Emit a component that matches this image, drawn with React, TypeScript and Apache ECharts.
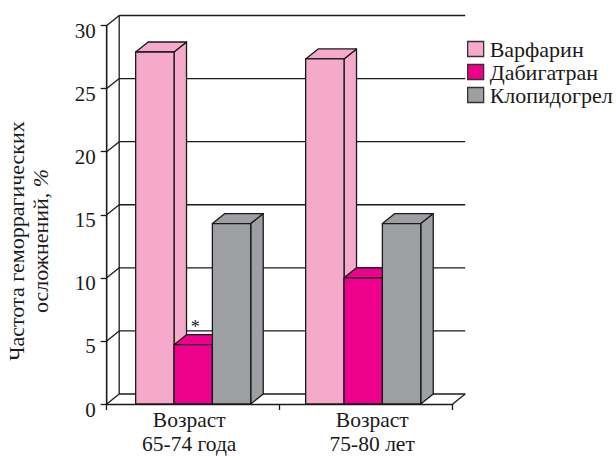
import React, { useEffect, useRef } from "react";
import * as echarts from "echarts";

const categories = ["Возраст\n65-74 года", "Возраст\n75-80 лет"];
const warfarin = [27.9, 27.35];
const dabigatran = [4.7, 10.0];
const clopidogrel = [14.3, 14.3];
const dabigatranMarks = ["*", ""];
const yTicks = [0, 5, 10, 15, 20, 25, 30];
const seriesNames = ["Варфарин", "Дабигатран", "Клопидогрел"];
const seriesColors = ["#F5A9CB", "#EC008C", "#9D9FA2"];
const yTitle = "Частота геморрагических";
const yTitle2 = "осложнений, ";

const FONT = "Liberation Serif";
const INK = "#1a1a1a";
const DX = 12.5;
const DY = -10;
const BAR_FRACTION = 0.2217;
const LINE = 1.3;
const GROUP_SHIFT = -3;

function wallItem(params: any, api: any) {
  const v = api.value(1);
  const cs = params.coordSys;
  const y = api.coord([0, v])[1];
  const left = cs.x;
  const right = cs.x + cs.width;
  const style = { stroke: INK, lineWidth: LINE, fill: "none" };
  const line = (x1: number, y1: number, x2: number, y2: number) => ({
    type: "line",
    shape: { x1, y1, x2, y2 },
    style,
  });
  const children: any[] = [
    line(left, y, left + DX, y + DY),
    line(left + DX, y + DY, right + DX, y + DY),
  ];
  if (v === 0) {
    children.push(line(right, y, right + DX, y + DY));
    children.push(line(left + DX, y + DY, left + DX, cs.y + DY));
    children.push(line(left, y, left, cs.y));
  }
  return { type: "group", children };
}

function barItem(seriesIndex: number, marks?: string[]) {
  return (params: any, api: any) => {
    const cat = api.value(0);
    const val = api.value(1);
    const band = api.size([1, 0])[0];
    const w = band * BAR_FRACTION;
    const [cx, top] = api.coord([cat, val]);
    const [, base] = api.coord([cat, 0]);
    const x = cx - 1.5 * w + seriesIndex * w + cat * GROUP_SHIFT;
    const color = seriesColors[seriesIndex];
    const style = { fill: color, stroke: INK, lineWidth: LINE, lineJoin: "round" };
    const children: any[] = [
      {
        type: "polygon",
        shape: {
          points: [
            [x + w, base],
            [x + w + DX, base + DY],
            [x + w + DX, top + DY],
            [x + w, top],
          ],
        },
        style,
      },
      {
        type: "polygon",
        shape: {
          points: [
            [x, top],
            [x + DX, top + DY],
            [x + w + DX, top + DY],
            [x + w, top],
          ],
        },
        style,
      },
      { type: "rect", shape: { x, y: top, width: w, height: base - top }, style },
    ];
    const mark = marks && marks[cat];
    if (mark) {
      children.push({
        type: "text",
        style: {
          text: mark,
          x: x + w / 2 + 2,
          y: top + DY - 8,
          fill: INK,
          font: `18px "${FONT}"`,
          textAlign: "center",
          textVerticalAlign: "middle",
        },
      });
    }
    return { type: "group", children };
  };
}

const seriesValues = [warfarin, dabigatran, clopidogrel];

const labelBase = { fontFamily: FONT, fontSize: 21.5, color: INK };

export default function App() {
  const ref = useRef<HTMLDivElement>(null);
  useEffect(() => {
    const chart = echarts.init(ref.current!, undefined, { renderer: "svg" });
    chart.setOption({
      animation: false,
      backgroundColor: "#ffffff",
      textStyle: { fontFamily: FONT },
      grid: { left: 106.7, top: 25.5, width: 346, height: 378.5, containLabel: false, outerBoundsMode: "none" },
      legend: {
        orient: "vertical",
        left: 467,
        top: 38,
        padding: 0,
        itemWidth: 16,
        itemHeight: 15,
        itemGap: 1,
        icon: "rect",
        selectedMode: false,
        textStyle: { fontFamily: FONT, fontSize: 22, color: INK, padding: [0, 0, 0, 1] },
        data: seriesNames.map((name, i) => ({
          name,
          itemStyle: { color: seriesColors[i], borderColor: "#333", borderWidth: 1.3 },
        })),
      },
      graphic: [
        {
          type: "text",
          x: 28,
          y: 241,
          rotation: Math.PI / 2,
          silent: true,
          style: {
            text: `{a|${yTitle}}\n{a|${yTitle2}}{i|%}`,
            align: "center",
            verticalAlign: "middle",
            textAlign: "center",
            textVerticalAlign: "middle",
            fill: INK,
            rich: {
              a: { fontFamily: FONT, fontSize: 22, fill: INK, lineHeight: 24 },
              i: { fontFamily: FONT, fontSize: 22, fontStyle: "italic", fill: INK, lineHeight: 24 },
            },
          },
        },
      ],
      xAxis: {
        type: "category",
        data: categories,
        boundaryGap: true,
        axisLine: { show: true, lineStyle: { color: INK, width: LINE } },
        axisTick: { show: true, length: 6, lineStyle: { color: INK, width: LINE } },
        axisLabel: {
          margin: 2,
          interval: 0,
          hideOverlap: false,
          formatter: (value: string, index: number) => {
            const [l1, l2] = value.split("\n");
            return `{a${index}|${l1}}\n{b${index}|${l2}}`;
          },
          rich: {
            a0: { ...labelBase, lineHeight: 28, padding: [0, 8, 0, 0] },
            b0: { ...labelBase, lineHeight: 20, padding: [0, 8, 0, 0] },
            a1: { ...labelBase, lineHeight: 28, padding: [0, 0, 0, 12] },
            b1: { ...labelBase, lineHeight: 20, padding: [0, 0, 0, 12] },
          },
        },
      },
      yAxis: {
        type: "value",
        min: 0,
        max: 30,
        interval: 5,
        splitLine: { show: false },
        axisLine: { show: true, lineStyle: { color: INK, width: LINE } },
        axisTick: { show: true, length: 6, lineStyle: { color: INK, width: LINE } },
        axisLabel: {
          fontFamily: FONT,
          fontSize: 21,
          color: INK,
          margin: 11,
          verticalAlign: "top",
          lineHeight: 11,
        },
      },
      series: [
        {
          type: "custom",
          name: "wall",
          z: 1,
          silent: true,
          clip: false,
          renderItem: wallItem,
          data: yTicks.map((t) => [0, t]),
        },
        ...seriesNames.map((name, i) => ({
          type: "custom",
          name,
          z: 2 + i,
          silent: true,
          clip: false,
          itemStyle: { color: seriesColors[i] },
          renderItem: barItem(i, i === 1 ? dabigatranMarks : undefined),
          data: seriesValues[i].map((v, c) => [c, v]),
        })),
      ],
    });
    return () => chart.dispose();
  }, []);
  return (
    <div
      ref={ref}
      style={{ width: 616, height: 456, position: "absolute", left: 0, top: 0 }}
    />
  );
}
